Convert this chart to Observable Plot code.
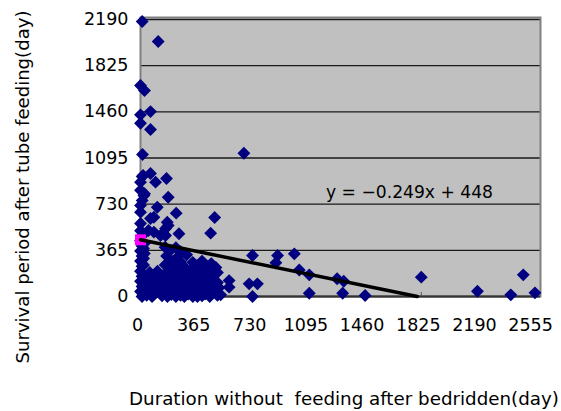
<!DOCTYPE html>
<html>
<head>
<meta charset="utf-8">
<script src="https://cdn.jsdelivr.net/npm/d3@7"></script>
<script src="https://cdn.jsdelivr.net/npm/@observablehq/plot@0.6"></script>
<style>
  html, body { margin: 0; padding: 0; background: #fff; }
  svg { display: block; }
</style>
</head>
<body>
<div id="chart"></div>
<script>
// Tick values
const xTicks = [0, 365, 730, 1095, 1460, 1825, 2190, 2555];
const yTicks = [0, 365, 730, 1095, 1460, 1825, 2190];

// Duration without feeding after bedridden (day)
const durationDays = [
  11, 115, 0, 26, 0, 65, 0, 65, 13, 672,
  11, 65, 169, 98, 0, 22, 180, 109, 0, 232,
  482, 87, 0, 180, 250, 456, 87, 163, 11, 26,
  17, 65, 174, 163, 52, 130, 0, 0,
  0, 10, 0, 10, 0, 10, 0, 10, 0, 10, 0, 10, 0, 10, 20, 20, 20, 20, 20, 25, 25,
  160, 230, 170, 240, 300, 160, 220, 280,
  60, 110, 170, 230, 290, 40, 90, 140, 200, 260, 320,
  30, 80, 130, 180, 240, 300, 40, 90, 140, 200, 260, 310,
  190, 260, 200, 260, 190, 250, 80, 140, 200, 260, 300,
  60, 110, 160, 220, 280, 55, 105, 160, 215, 270, 320, 75, 175, 230, 285,
  340, 400, 460, 330, 390, 450, 500, 350, 410, 470, 330, 390, 450, 510, 360, 420, 480, 340, 400,
  370, 430, 490, 360, 420, 480, 380, 440, 500, 360, 420, 480, 370, 450, 500,
  576, 576, 521, 706, 760, 728, 728, 891, 1000, 880, 1032, 1097, 1097,
  1278, 1321, 1314, 1460, 1825, 2190, 2407, 2488, 2564
];
// Survival period after tube feeding (day)
const survivalDays = [
  2174, 2016, 1668, 1628, 1436, 1462, 1370, 1320, 1123, 1133,
  949, 972, 933, 904, 904, 798, 785, 706, 667, 659,
  625, 627, 577, 561, 496, 501, 509, 482, 759, 812,
  957, 617, 587, 538, 522, 482, 840, 720,
  520, 480, 440, 400, 360, 320, 280, 240, 200, 160, 120, 80, 40, 0, 20, 380, 300, 140, 250, 340, 420,
  390, 385, 320, 310, 330, 250, 250, 240,
  190, 200, 190, 180, 170, 130, 140, 130, 125, 120, 110,
  70, 80, 70, 65, 60, 55, 10, 20, 5, 15, 10, 20,
  360, 355, 280, 275, 220, 215, 160, 165, 155, 150, 145,
  100, 105, 100, 95, 90, 45, 45, 40, 35, 35, 40, 0, 0, 0, 0,
  270, 280, 260, 210, 220, 200, 190, 150, 160, 140, 90, 100, 80, 70, 30, 20, 35, 0, 5,
  245, 240, 230, 185, 190, 170, 125, 115, 110, 60, 50, 60, 0, 0, 10,
  126, 74, 13, 100, 100, 0, 324, 324, 337, 266, 210, 171, 26,
  140, 121, 26, 8, 153, 42, 13, 171, 29
];

// Linear trend shown on the chart
const slope = -0.249;
const intercept = 448;

const points = durationDays.map((d, i) => ({duration: d, survival: survivalDays[i]}));
const trend = [0, -intercept / slope].map(x => ({duration: x, survival: intercept + slope * x}));

const FONT = "'DejaVu Sans', Verdana, sans-serif";

const chart = Plot.plot({
  width: 561,
  height: 411,
  marginLeft: 140,
  marginRight: 21,
  marginTop: 19,
  marginBottom: 115,
  style: {fontFamily: FONT, fontSize: "17.5px", color: "#000", background: "#fff", overflow: "visible"},
  x: {domain: [0, 2600]},
  y: {domain: [0, 2190]},
  marks: [
    Plot.frame({fill: "#C0C0C0", insetTop: -2}),
    Plot.gridY(yTicks, {stroke: "#1a1a1a", strokeOpacity: 1, strokeWidth: 1.3}),
    Plot.frame({stroke: "#808080", strokeWidth: 2, insetTop: -2}),
    Plot.ruleY([0], {stroke: "#333", strokeWidth: 2}),
    Plot.ruleX(xTicks, {y1: 0, y2: 0, insetTop: -4, stroke: "#555", strokeWidth: 1}),
    Plot.axisY(yTicks, {tickSize: 0, tickPadding: 12, label: null, fontSize: 17.5, tickFormat: d => String(d)}),
    Plot.axisX(xTicks, {tickSize: 0, tickPadding: 22, label: null, fontSize: 17.5, dx: -3, tickFormat: d => String(d)}),
    Plot.dot(points, {x: "duration", y: "survival", symbol: "diamond2", r: 5.8, fill: "#000080", stroke: "none"}),
    Plot.dot(trend.slice(0, 1), {x: "duration", y: "survival", symbol: "square", r: 6.2, fill: "#FF00FF", stroke: "none"}),
    Plot.line(trend, {x: "duration", y: "survival", stroke: "#000", strokeWidth: 3.5})
  ]
});

const svg = d3.select(chart);
svg.append("text")
  .attr("x", 326).attr("y", 198)
  .attr("text-anchor", "start")
  .attr("textLength", 167).attr("lengthAdjust", "spacingAndGlyphs")
  .attr("font-family", FONT).attr("font-size", 17.5).attr("fill", "#000")
  .text("y = \u22120.249x + 448");
svg.append("text")
  .attr("transform", "translate(29,187) rotate(-90)")
  .attr("text-anchor", "middle")
  .attr("textLength", 353).attr("lengthAdjust", "spacingAndGlyphs")
  .attr("font-family", FONT).attr("font-size", 17.5).attr("fill", "#000")
  .text("Survival period after tube feeding(day)");
svg.append("text")
  .attr("x", 344).attr("y", 405)
  .attr("text-anchor", "middle")
  .attr("textLength", 430).attr("lengthAdjust", "spacingAndGlyphs")
  .attr("font-family", FONT).attr("font-size", 17.5).attr("fill", "#000")
  .style("white-space", "pre")
  .text("Duration without  feeding after bedridden(day)");

document.getElementById("chart").appendChild(chart);
</script>
</body>
</html>
